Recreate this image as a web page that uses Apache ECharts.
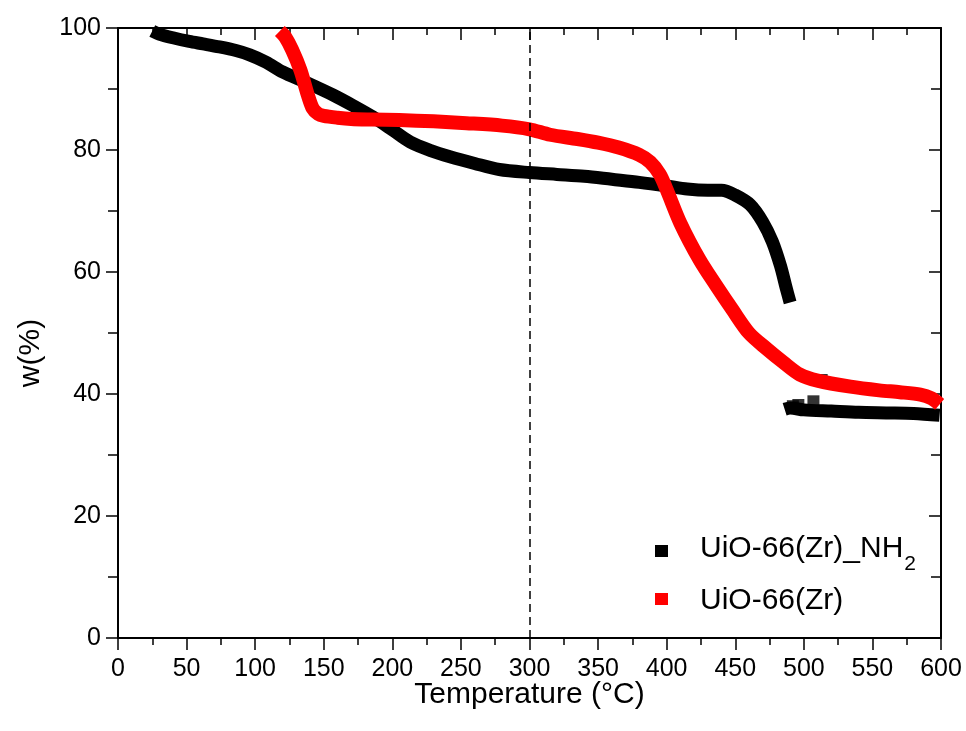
<!DOCTYPE html>
<html>
<head>
<meta charset="utf-8">
<script src="https://cdn.jsdelivr.net/npm/echarts@6/dist/echarts.min.js"></script>
<style>html,body{margin:0;padding:0;background:#fff}#c{width:966px;height:731px}</style>
</head>
<body>
<div id="c"></div>
<script>
// Temperature (°C) / weight (%) pairs
const nh2Temp = [25, 30, 40, 52, 62, 74, 86, 96, 108, 120, 138, 157, 172, 186, 200, 213, 228, 242, 260, 278, 300, 320, 340, 360, 380, 400, 415, 430, 440, 450, 461, 470, 477, 483, 487, 490, null, 486, 490, 500, 520, 540, 560, 580, 599];
const nh2W    = [99.5, 99.0, 98.4, 97.8, 97.4, 96.9, 96.3, 95.6, 94.4, 92.8, 91.0, 89.0, 87.2, 85.4, 83.3, 81.3, 79.9, 78.9, 77.8, 76.8, 76.3, 76.0, 75.7, 75.2, 74.7, 74.1, 73.6, 73.4, 73.4, 72.6, 71.0, 68.2, 65.0, 61.0, 57.5, 55.0, null, 37.5, 37.7, 37.4, 37.2, 37.0, 36.9, 36.8, 36.5];
const nh2StrayTemp = [492, 496, 507, 513];
const nh2StrayW    = [38.0, 38.2, 38.8, 42.3];
const zrTemp = [118, 122, 127, 133, 138, 142, 146, 150, 160, 170, 185, 205, 230, 254, 280, 300, 315, 335, 350, 365, 380, 388, 395, 400, 410, 424, 436, 448, 460, 473, 485, 497, 510, 534, 555, 570, 585, 593, 599];
const zrW    = [99.5, 98.5, 96.4, 93.1, 89.3, 86.8, 85.9, 85.6, 85.3, 85.1, 85.0, 84.9, 84.7, 84.4, 84.0, 83.4, 82.5, 81.8, 81.2, 80.4, 79.2, 78.0, 76.0, 73.5, 68.0, 62.0, 57.8, 53.8, 50.0, 47.4, 45.2, 43.2, 42.2, 41.2, 40.6, 40.3, 39.9, 39.3, 38.3];
const xTicks = {min: 0, max: 600, step: 50};
const yTicks = {min: 0, max: 100, step: 20};
const seriesNames = ['UiO-66(Zr)_NH2', 'UiO-66(Zr)'];
const markerTemp = 300;

function pairs(xs, ys) { return xs.map((x, i) => (x === null ? [null, null] : [x, ys[i]])); }

const FONT = 'Liberation Sans, Arial, sans-serif';
const chart = echarts.init(document.getElementById('c'));
function frameAxis(pos, inside, labels, extra, minorLen) {
  return Object.assign({
    type: 'value', position: pos,
    axisLine: {show: true, onZero: false, lineStyle: {color: '#000', width: 2}},
    axisTick: {show: true, inside: inside, length: 12, lineStyle: {color: '#000', width: 1.5}},
    minorTick: {show: true, splitNumber: 2, length: minorLen, lineStyle: {color: '#000', width: 1.5}},
    axisLabel: labels ? labels : {show: false},
    splitLine: {show: false}, minorSplitLine: {show: false}
  }, extra);
}
chart.setOption({
  animation: false,
  backgroundColor: '#fff',
  grid: {left: 118, right: 25, top: 28, bottom: 93},
  legend: {
    orient: 'vertical', left: 650, top: 529, itemGap: 7, itemWidth: 13, itemHeight: 12,
    data: [
      {name: seriesNames[0], icon: 'rect', itemStyle: {color: '#000'}},
      {name: seriesNames[1], icon: 'rect', itemStyle: {color: '#ff0000'}}
    ],
    formatter: n => n === seriesNames[0] ? '{a|UiO-66(Zr)_NH}{s|2}' : '{b|' + n + '}',
    textStyle: {
      padding: [0, 0, 0, 27],
      rich: {
        a: {fontSize: 30, lineHeight: 34, fontFamily: FONT, color: '#000', verticalAlign: 'top'},
        s: {fontSize: 21, lineHeight: 21, fontFamily: FONT, color: '#000', verticalAlign: 'top', padding: [20, 0, 0, 1]},
        b: {fontSize: 30, lineHeight: 34, fontFamily: FONT, color: '#000', verticalAlign: 'top', padding: [4, 0, 0, 0]}
      }
    }
  },
  xAxis: [
    frameAxis('bottom', false, {fontSize: 25, margin: 19, fontFamily: FONT, color: '#000'}, {
      min: xTicks.min, max: xTicks.max, interval: xTicks.step,
      name: 'Temperature (°C)', nameLocation: 'middle', nameGap: 42, nameMoveOverlap: false,
      nameTextStyle: {fontSize: 30, fontFamily: FONT, color: '#000'}
    }, 7),
    frameAxis('top', true, null, {min: xTicks.min, max: xTicks.max, interval: xTicks.step}, 7)
  ],
  yAxis: [
    frameAxis('left', false, {fontSize: 25, margin: 17, fontFamily: FONT, color: '#000'}, {
      min: yTicks.min, max: yTicks.max, interval: yTicks.step,
      name: 'w(%)', nameLocation: 'middle', nameGap: 72, nameRotate: 90, nameMoveOverlap: false,
      nameTextStyle: {fontSize: 30, fontFamily: FONT, color: '#000', padding: [0, 40, 0, 0]}
    }, 10),
    frameAxis('right', true, null, {min: yTicks.min, max: yTicks.max, interval: yTicks.step}, 10)
  ],
  series: [
    {name: seriesNames[0], type: 'line', data: pairs(nh2Temp, nh2W), showSymbol: false, smooth: 0.3,
     connectNulls: false, lineStyle: {color: '#000', width: 13, cap: 'butt', join: 'round'},
     itemStyle: {color: '#000'}, z: 2,
     markLine: {silent: true, symbol: 'none', label: {show: false},
       lineStyle: {color: '#000', type: [8, 5], width: 1.5},
       data: [{xAxis: markerTemp}]}},
    {name: seriesNames[0], type: 'scatter', data: pairs(nh2StrayTemp, nh2StrayW), symbol: 'rect', symbolSize: 12,
     itemStyle: {color: '#000'}, z: 2},
    {name: seriesNames[1], type: 'line', data: pairs(zrTemp, zrW), showSymbol: false, smooth: 0.3,
     lineStyle: {color: '#ff0000', width: 14, cap: 'butt', join: 'round'},
     itemStyle: {color: '#ff0000'}, z: 3}
  ]
});
</script>
</body>
</html>
